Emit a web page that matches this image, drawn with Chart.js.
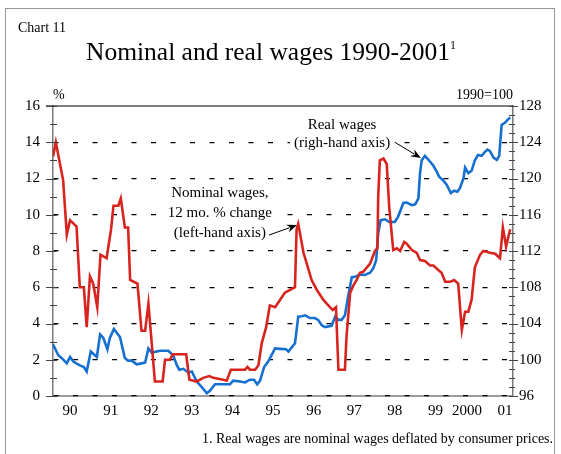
<!DOCTYPE html>
<html>
<head>
<meta charset="utf-8">
<script src="https://cdn.jsdelivr.net/npm/chart.js@4.4.1/dist/chart.umd.min.js"></script>
<style>
  body { margin: 0; background: #fff; }
  #wrap { position: relative; width: 561px; height: 454px; overflow: hidden; font-family: 'Liberation Serif', 'Times New Roman', serif; color: #000; }
  #frame { position: absolute; left: 5px; top: 8px; width: 548px; height: 470px; border: 1px solid #999; }
  #chart { position: absolute; left: 0; top: 0; }
  .txt { position: absolute; white-space: nowrap; line-height: 1; }
</style>
</head>
<body>
<div id="wrap">
  <div id="frame"></div>
  <canvas id="chart" width="561" height="454"></canvas>
  <div class="txt" style="left:18px; top:21px; font-size:14px;">Chart 11</div>
  <div class="txt" style="left:86px; top:39px; font-size:25.5px;">Nominal and real wages 1990-2001<span style="font-size:12px; vertical-align:11px;">1</span></div>
  <div class="txt" style="left:53px; top:88px; font-size:14px;">%</div>
  <div class="txt" style="right:48px; top:88px; font-size:14px;">1990=100</div>
  <div class="txt" style="left:202px; top:432px; font-size:14px;">1. Real wages are nominal wages deflated by consumer prices.</div>
</div>
<script>
// nominal wages, 12 mo. % change (left axis)
const nominalYears = [1990.00,1990.07,1990.25,1990.34,1990.42,1990.58,1990.66,1990.76,1990.83,1990.91,1990.99,
  1991.09,1991.17,1991.32,1991.43,1991.49,1991.61,1991.67,1991.77,1991.85,1991.90,
  1992.08,1992.18,1992.27,1992.35,1992.51,1992.70,1992.76,1992.88,1992.95,
  1993.28,1993.36,1993.54,1993.70,1993.85,1993.95,
  1994.28,1994.38,1994.73,1994.79,1994.85,1994.98,
  1995.06,1995.14,1995.25,1995.34,1995.47,1995.59,1995.71,1995.84,1995.96,
  1996.00,1996.04,1996.17,1996.25,1996.37,1996.50,1996.66,1996.82,1996.89,1996.97,
  1997.03,1997.19,1997.23,1997.32,1997.40,1997.48,1997.56,1997.64,1997.81,1997.93,1997.99,
  1998.01,1998.05,1998.14,1998.22,1998.28,1998.38,1998.47,1998.55,1998.65,1998.71,1998.84,1998.96,
  1999.04,1999.16,1999.29,1999.37,1999.49,1999.57,1999.66,1999.78,1999.88,1999.98,
  2000.07,2000.15,2000.23,2000.31,2000.39,2000.52,2000.60,2000.76,2000.89,
  2001.01,2001.08,2001.16,2001.26];
const nominalValues = [13.2,14.0,11.9,8.9,9.7,9.35,6.0,6.0,3.8,6.6,6.2,
  4.9,7.8,7.6,9.2,10.5,10.5,10.9,9.3,9.3,6.4,
  6.2,3.6,3.6,5.1,0.8,0.8,2.0,2.0,2.3,
  2.3,0.9,0.8,1.0,1.1,1.0,
  0.85,1.45,1.45,1.6,1.45,1.45,
  1.7,2.9,3.8,5.0,4.9,5.3,5.7,5.85,6.0,
  9.2,9.5,7.9,7.3,6.4,5.85,5.3,4.9,4.75,4.9,
  1.45,1.45,3.3,5.7,6.1,6.4,6.8,6.85,7.3,8.0,8.15,
  11.0,13.0,13.1,12.8,10.45,8.05,8.15,8.0,8.5,8.4,8.05,7.9,
  7.5,7.45,7.2,7.2,6.95,6.8,6.3,6.3,6.4,6.2,
  3.65,4.65,4.65,5.3,7.1,7.8,8.0,7.9,7.85,
  7.6,9.3,8.25,9.2];

// real wages, 1990=100 (right axis)
const realYears = [1990.00,1990.13,1990.21,1990.34,1990.42,1990.50,1990.65,1990.76,1990.83,1990.93,
  1991.08,1991.16,1991.24,1991.34,1991.40,1991.50,1991.65,1991.77,1991.85,1991.94,
  1992.06,1992.18,1992.27,1992.35,1992.43,1992.64,1992.84,1992.96,
  1993.05,1993.11,1993.21,1993.33,1993.42,1993.54,1993.66,1993.79,1993.87,1993.99,
  1994.16,1994.36,1994.44,1994.61,1994.73,1994.85,1994.95,
  1995.03,1995.10,1995.20,1995.30,1995.47,1995.59,1995.74,1995.80,1995.92,1995.96,
  1996.04,1996.13,1996.21,1996.33,1996.45,1996.53,1996.62,1996.70,1996.86,1996.95,
  1997.03,1997.11,1997.19,1997.27,1997.36,1997.44,1997.56,1997.68,1997.81,1997.89,1997.96,
  1998.01,1998.07,1998.18,1998.28,1998.42,1998.50,1998.63,1998.71,1998.84,1998.92,
  1999.00,1999.04,1999.08,1999.16,1999.29,1999.37,1999.45,1999.51,1999.61,1999.70,1999.80,1999.88,1999.96,
  2000.02,2000.11,2000.15,2000.23,2000.31,2000.39,2000.47,2000.56,2000.64,2000.70,2000.76,2000.85,2000.93,2000.99,
  2001.05,2001.13,2001.19,2001.26];
const realValues = [101.7,100.5,100.2,99.6,100.3,99.8,99.4,99.2,98.7,100.9,
  100.3,102.8,102.4,101.15,102.4,103.4,102.5,100.2,99.9,99.9,
  99.5,99.6,99.7,101.25,100.8,101.0,101.0,100.5,
  99.4,98.9,99.0,98.6,98.7,97.6,97.0,96.3,96.6,97.3,
  97.3,97.3,97.7,97.6,97.5,97.8,97.8,
  97.3,97.7,99.2,99.8,101.25,101.2,101.15,100.9,101.6,101.8,
  104.75,104.8,104.9,104.6,104.6,104.4,103.8,103.6,103.75,104.75,
  104.4,104.4,104.9,107.0,109.1,109.15,109.4,109.35,109.6,110.1,111.0,
  113.95,115.4,115.5,115.2,115.2,115.8,117.3,117.35,117.05,117.15,
  117.8,120.6,122.0,122.5,121.85,121.4,120.75,120.2,119.8,119.3,118.4,118.65,118.55,
  118.9,120.0,121.2,120.6,120.85,122.0,122.6,122.5,122.95,123.2,123.05,122.3,122.05,122.5,
  125.9,126.15,126.45,126.75];

// year labels on the time axis and where they sit
const xTickLabels = ['90','91','92','93','94','95','96','97','98','99','2000','01'];
const xTickPos = [1990.42,1991.42,1992.42,1993.42,1994.42,1995.42,1996.42,1997.42,1998.42,1999.42,2000.2,2001.13];

const FONT = "'Liberation Serif', 'Times New Roman', serif";
const RED = '#d8241f';
const BLUE = '#1570d0';
const AXIS_GRAY = '#7a7a7a';

Chart.defaults.font.family = FONT;
Chart.defaults.font.size = 15;
Chart.defaults.color = '#000';

function toPoints(xs, ys) {
  return xs.map((x, i) => ({ x: x, y: ys[i] }));
}

// note text with a white patch behind it, so the dashed grid breaks around it
function note(ctx, text, x, y) {
  const w = ctx.measureText(text).width;
  ctx.fillStyle = '#fff';
  ctx.fillRect(x - w / 2 - 4, y - 7, w + 8, 14);
  ctx.fillStyle = '#000';
  ctx.fillText(text, x, y);
}

// axis frame, tick marks, top rule and text notes
const decorations = {
  id: 'decorations',
  beforeDraw(chart) {
    const { ctx, chartArea: a } = chart;
    ctx.save();
    ctx.strokeStyle = AXIS_GRAY;
    ctx.lineWidth = 1.5;
    ctx.beginPath();
    ctx.moveTo(a.left, a.bottom);
    ctx.lineTo(a.right, a.bottom);
    ctx.stroke();
    ctx.restore();
  },
  beforeDatasetsDraw(chart) {
    const { ctx, scales } = chart;
    const x = scales.x, yl = scales.y;
    const px = t => x.getPixelForValue(t);
    const py = v => yl.getPixelForValue(v);
    ctx.save();
    ctx.font = '15px ' + FONT;
    ctx.textAlign = 'center';
    ctx.textBaseline = 'middle';
    note(ctx, 'Real wages', px(1997.12), py(14.95));
    note(ctx, '(righ-hand axis)', px(1997.12), py(13.96));
    note(ctx, 'Nominal wages,', px(1994.11), py(11.2));
    note(ctx, '12 mo. % change', px(1994.11), py(10.1));
    note(ctx, '(left-hand axis)', px(1994.11), py(9.0));
    arrow(ctx, px(1998.42), py(14.0), px(1999.06), py(13.13));
    arrow(ctx, px(1995.32), py(8.88), px(1996.01), py(9.43));
    ctx.restore();
  },
  afterDatasetsDraw(chart) {
    const { ctx, chartArea: a, scales } = chart;
    const yl = scales.y, yr = scales.y1;
    ctx.save();
    // top rule
    ctx.strokeStyle = '#000';
    ctx.lineWidth = 1.2;
    ctx.beginPath();
    ctx.moveTo(a.left - 7, a.top);
    ctx.lineTo(a.right, a.top);
    ctx.stroke();

    // tick marks
    ctx.strokeStyle = '#444';
    ctx.lineWidth = 1;
    for (let v = 0; v <= 16; v++) {
      const py = Math.round(yl.getPixelForValue(v)) + 0.5;
      const major = v % 2 === 0;
      ctx.beginPath();
      ctx.moveTo(a.left - (major ? 7 : 3), py);
      ctx.lineTo(a.left + 4, py);
      ctx.stroke();
    }
    for (let v = 96; v <= 128; v++) {
      const py = Math.round(yr.getPixelForValue(v)) + 0.5;
      const major = v % 4 === 0;
      ctx.beginPath();
      ctx.moveTo(a.right - 4, py);
      ctx.lineTo(a.right + (major ? 5 : 2), py);
      ctx.stroke();
    }
    ctx.restore();
  }
};

function arrow(ctx, x1, y1, x2, y2) {
  const ang = Math.atan2(y2 - y1, x2 - x1);
  const len = 10, half = 4;
  ctx.strokeStyle = '#000';
  ctx.lineWidth = 1;
  ctx.beginPath();
  ctx.moveTo(x1, y1);
  ctx.lineTo(x2 - Math.cos(ang) * len * 0.8, y2 - Math.sin(ang) * len * 0.8);
  ctx.stroke();
  ctx.beginPath();
  ctx.moveTo(x2, y2);
  ctx.lineTo(x2 - Math.cos(ang) * len + Math.sin(ang) * half, y2 - Math.sin(ang) * len - Math.cos(ang) * half);
  ctx.lineTo(x2 - Math.cos(ang) * len * 0.7, y2 - Math.sin(ang) * len * 0.7);
  ctx.lineTo(x2 - Math.cos(ang) * len - Math.sin(ang) * half, y2 - Math.sin(ang) * len + Math.cos(ang) * half);
  ctx.closePath();
  ctx.fillStyle = '#000';
  ctx.fill();
}

new Chart(document.getElementById('chart'), {
  type: 'line',
  data: {
    datasets: [
      {
        label: 'Nominal wages',
        data: toPoints(nominalYears, nominalValues),
        yAxisID: 'y',
        borderColor: RED,
        borderWidth: 2.6,
        pointRadius: 0,
        tension: 0
      },
      {
        label: 'Real wages',
        data: toPoints(realYears, realValues),
        yAxisID: 'y1',
        borderColor: BLUE,
        borderWidth: 2.6,
        pointRadius: 0,
        tension: 0
      }
    ]
  },
  plugins: [decorations],
  options: {
    responsive: false,
    devicePixelRatio: 1,
    animation: false,
    layout: { padding: { top: 106, left: 0, right: 8, bottom: 28 } },
    plugins: { legend: { display: false }, tooltip: { enabled: false } },
    scales: {
      x: {
        type: 'linear',
        min: 1990,
        max: 2001.33,
        afterFit: s => { s.height = 30; },
        afterBuildTicks: s => { s.ticks = xTickPos.map(v => ({ value: v })); },
        ticks: {
          autoSkip: false,
          maxRotation: 0,
          padding: 6,
          callback: (v, i) => xTickLabels[i]
        },
        grid: { drawOnChartArea: false, drawTicks: false },
        border: { display: false }
      },
      y: {
        position: 'left',
        min: 0,
        max: 16,
        afterFit: s => { s.width = 53; },
        ticks: {
          stepSize: 1,
          autoSkip: false,
          padding: 13,
          callback: v => (v % 2 === 0 ? v : '')
        },
        grid: {
          drawTicks: false,
          lineWidth: 1.2,
          color: c => (c.tick && c.tick.value % 2 === 0 && c.tick.value < 16 ? '#000' : 'rgba(0,0,0,0)')
        },
        border: { display: true, color: AXIS_GRAY, width: 1.5, dash: [5, 14.5] }
      },
      y1: {
        position: 'right',
        min: 96,
        max: 128,
        afterFit: s => { s.width = 40; },
        ticks: {
          stepSize: 1,
          autoSkip: false,
          padding: 6,
          callback: v => (v % 4 === 0 ? v : '')
        },
        grid: { drawOnChartArea: false, drawTicks: false },
        border: { display: true, color: AXIS_GRAY, width: 1.5 }
      }
    }
  }
});
</script>
</body>
</html>
